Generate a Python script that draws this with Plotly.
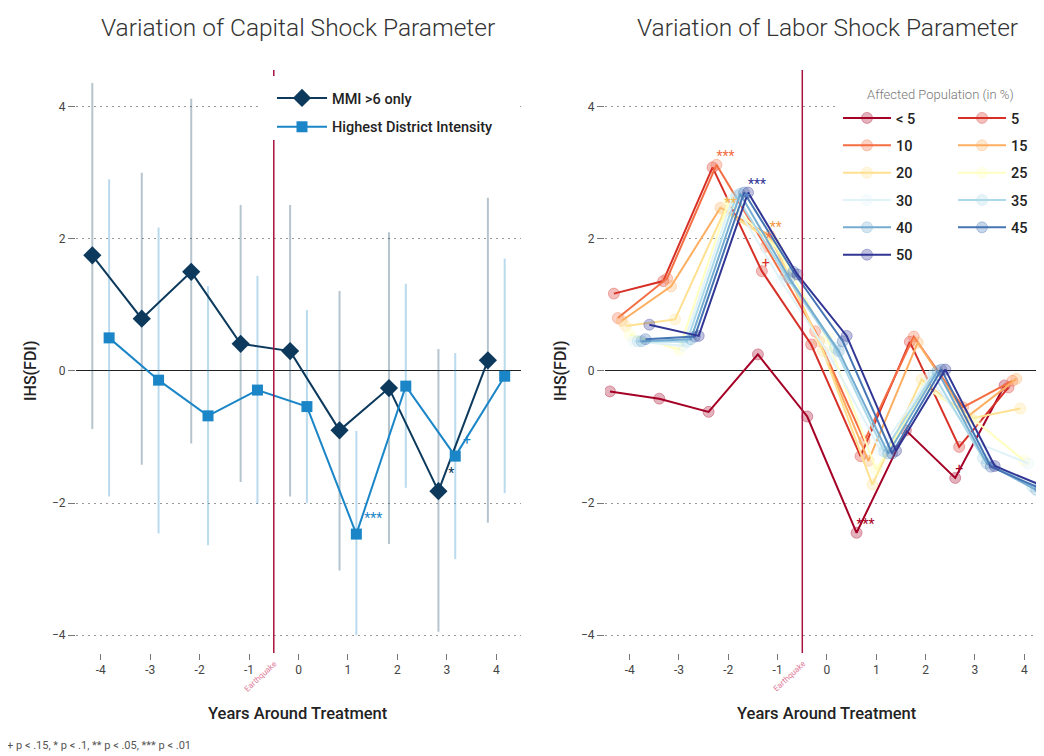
import plotly.graph_objects as go

# The page body has an 8 px margin, so the figure is drawn at (8, 8).
PAGE_OFF = 8
W, H = 1044 - PAGE_OFF, 756 - PAGE_OFF

# ---------------- data ----------------
years = [-4, -3, -2, -1, 0, 1, 2, 3, 4]
tick_labels = ["-4", "-3", "-2", "-1", "0", "1", "2", "3", "4"]

# Left panel: Capital shock parameter
mmi_est = [1.75, 0.79, 1.50, 0.41, 0.30, -0.90, -0.26, -1.82, 0.16]
mmi_lo = [-0.88, -1.42, -1.10, -1.68, -1.90, -3.02, -2.62, -3.95, -2.30]
mmi_hi = [4.36, 3.00, 4.12, 2.51, 2.51, 1.21, 2.10, 0.33, 2.62]
mmi_sig = ["", "", "", "", "", "", "", "*", ""]

hdi_est = [0.50, -0.14, -0.68, -0.29, -0.54, -2.47, -0.23, -1.29, -0.08]
hdi_lo = [-1.90, -2.46, -2.64, -2.01, -2.00, -4.00, -1.77, -2.85, -1.85]
hdi_hi = [2.90, 2.17, 1.28, 1.44, 0.92, -0.91, 1.32, 0.27, 1.70]
hdi_sig = ["", "", "", "", "", "***", "", "+", ""]

# Right panel: Labor shock parameter by affected population share
pop_names = ["< 5", "5", "10", "15", "20", "25", "30", "35", "40", "45", "50"]
pop_lt5 = [-0.31, -0.42, -0.62, 0.25, -0.69, -2.45, -0.90, -1.62, -0.22]
pop_5 = [1.17, 1.36, 3.08, 1.51, 0.40, -1.29, 0.44, -1.15, -0.25]
pop_10 = [0.80, 1.40, 3.12, 1.88, 0.60, -1.06, 0.52, -0.55, -0.15]
pop_15 = [0.76, 1.28, 2.47, 2.05, 0.45, -1.36, 0.43, -0.70, -0.12]
pop_20 = [0.68, 0.78, 2.42, 1.95, 0.30, -1.72, -0.13, -0.72, -0.57]
pop_25 = [0.55, 0.32, 2.55, 1.85, 0.50, -1.50, -0.25, -0.75, -1.36]
pop_30 = [0.45, 0.38, 2.60, 1.35, 0.20, -1.20, -0.10, -1.10, -1.40]
pop_35 = [0.45, 0.44, 2.65, 1.45, 0.35, -1.22, -0.05, -1.32, -1.75]
pop_40 = [0.45, 0.48, 2.68, 1.40, 0.30, -1.25, 0.00, -1.40, -1.80]
pop_45 = [0.48, 0.52, 2.70, 1.50, 0.45, -1.25, 0.02, -1.45, -1.78]
pop_50 = [0.70, 0.53, 2.70, 1.46, 0.53, -1.21, 0.02, -1.44, -1.75]
pop_values = [pop_lt5, pop_5, pop_10, pop_15, pop_20, pop_25,
              pop_30, pop_35, pop_40, pop_45, pop_50]

sig_lt5 = ["", "", "", "", "", "***", "", "+", ""]
sig_5 = ["", "", "", "+", "", "", "", "", ""]
sig_10 = ["", "", "***", "*", "", "", "", "", ""]
sig_15 = ["", "", "", "**", "", "", "", "", ""]
sig_20 = ["", "", "**", "", "", "", "", "", ""]
sig_none = [""] * 9
sig_45 = ["", "", "*", "", "", "", "", "", ""]
sig_50 = ["", "", "***", "", "", "", "", "", ""]
pop_sigs = [sig_lt5, sig_5, sig_10, sig_15, sig_20, sig_none,
            sig_none, sig_none, sig_none, sig_45, sig_50]

# ---------------- styles ----------------
pop_colors = ["#a50026", "#d73027", "#f46d43", "#fdae61", "#fee090", "#ffffbf",
              "#e0f3f8", "#abd9e9", "#74add1", "#4575b4", "#313695"]
sig_colors = ["#a50026", "#d73027", "#f46d43", "#f59a45", "#f7b84a", "#f0e060",
              "#b8dff0", "#8cc6e0", "#74add1", "#5b8fcc", "#313695"]
sig_pos = ["top right"] * 9 + ["bottom right", "top right"]
MMI_C = "#0d3a5c"
HDI_C = "#1a86c7"
QUAKE_C = "#a8123e"
FONT = "Roboto"


def rgba(hexc, a):
    h = hexc.lstrip("#")
    r, g, b = int(h[0:2], 16), int(h[2:4], 16), int(h[4:6], 16)
    return f"rgba({r},{g},{b},{a})"


def px(x):
    return (x - PAGE_OFF) / W


def py(y):
    return 1 - (y - PAGE_OFF) / H


def ci_segments(xs, lo, hi):
    X, Y = [], []
    for x, a, b in zip(xs, lo, hi):
        X += [x, x, None]
        Y += [a, b, None]
    return X, Y


fig = go.Figure()

# ---------- left panel ----------
off_l = 0.17
x_mmi = [y - off_l for y in years]
x_hdi = [y + off_l for y in years]

cx, cy = ci_segments(x_mmi, mmi_lo, mmi_hi)
fig.add_trace(go.Scatter(x=cx, y=cy, mode="lines", line=dict(color=rgba(MMI_C, 0.3), width=2),
                         showlegend=False, hoverinfo="skip", xaxis="x", yaxis="y"))
cx, cy = ci_segments(x_hdi, hdi_lo, hdi_hi)
fig.add_trace(go.Scatter(x=cx, y=cy, mode="lines", line=dict(color=rgba(HDI_C, 0.3), width=2),
                         showlegend=False, hoverinfo="skip", xaxis="x", yaxis="y"))

fig.add_trace(go.Scatter(
    x=x_mmi, y=mmi_est, mode="lines+markers+text", name="MMI >6 only",
    line=dict(color=MMI_C, width=2), marker=dict(symbol="diamond", size=14, color=MMI_C),
    text=mmi_sig, textposition="top right", textfont=dict(color=MMI_C, size=14, family=FONT),
    xaxis="x", yaxis="y", legend="legend", legendgroup="a"))
fig.add_trace(go.Scatter(
    x=x_hdi, y=hdi_est, mode="lines+markers+text", name="Highest District Intensity",
    line=dict(color=HDI_C, width=2), marker=dict(symbol="square", size=11, color=HDI_C),
    text=hdi_sig, textposition="top right", textfont=dict(color=HDI_C, size=14, family=FONT),
    xaxis="x", yaxis="y", legend="legend", legendgroup="b"))

# ---------- right panel ----------
pop_offsets = [-0.4 + 0.08 * i for i in range(len(pop_names))]
for i, (name, vals, col) in enumerate(zip(pop_names, pop_values, pop_colors)):
    xs = [y + pop_offsets[i] for y in years]
    leg = "legend2" if i % 2 == 0 else "legend3"
    fig.add_trace(go.Scatter(
        x=xs, y=vals, mode="lines+markers", name=name,
        line=dict(color=col, width=2),
        marker=dict(symbol="circle", size=11, color=rgba(col, 0.3),
                    line=dict(color=rgba(col, 0.35), width=1)),
        xaxis="x2", yaxis="y2", legend=leg, legendgroup=f"p{i}"))

# significance stars drawn on top of all lines
for i, (vals, sig) in enumerate(zip(pop_values, pop_sigs)):
    if not any(sig):
        continue
    xs = [y + pop_offsets[i] for y in years]
    fig.add_trace(go.Scatter(
        x=xs, y=vals, mode="text", text=sig, textposition=sig_pos[i],
        textfont=dict(color=sig_colors[i], size=14, family=FONT),
        marker=dict(size=11), showlegend=False, hoverinfo="skip", xaxis="x2", yaxis="y2"))

# ---------- axes ----------
ydom = [py(653), py(70)]
common_y = dict(range=[-4.27, 4.555], tickvals=[-4, -2, 0, 2, 4], ticks="outside", ticklen=7,
                tickcolor="#777", tickwidth=1, showgrid=True, gridcolor="#999999", griddash="1.5px,4.5px",
                gridwidth=1, zeroline=True, zerolinecolor="#222", zerolinewidth=1, showline=False,
                tickfont=dict(family=FONT, size=12, color="#444"), domain=ydom)
common_x = dict(tickvals=years, ticktext=tick_labels, ticks="outside", ticklen=6, tickcolor="#777",
                tickwidth=1, showgrid=False, zeroline=False, showline=False,
                tickfont=dict(family=FONT, size=12, color="#444"))

fig.update_layout(
    xaxis=dict(domain=[px(76), px(521)], range=[-4.5, 4.5], anchor="y", **common_x),
    yaxis=dict(anchor="x", **common_y),
    xaxis2=dict(domain=[px(605), 1.0], range=[-4.5, 4.4], anchor="y2", **common_x),
    yaxis2=dict(anchor="x2", **common_y),
)

# ---------- shapes ----------
shapes = [
    dict(type="line", xref="x", yref="y domain", x0=-0.5, x1=-0.5, y0=0, y1=1.0,
         line=dict(color=QUAKE_C, width=1.5), layer="above"),
    dict(type="line", xref="x2", yref="y2 domain", x0=-0.5, x1=-0.5, y0=0, y1=1.0,
         line=dict(color=QUAKE_C, width=1.5), layer="above"),
    dict(type="rect", xref="paper", yref="paper", x0=px(262), x1=px(516), y0=py(140), y1=py(76),
         fillcolor="white", line=dict(width=0), layer="above"),
    dict(type="rect", xref="paper", yref="paper", x0=px(838), x1=1.0, y0=py(270), y1=py(76),
         fillcolor="white", line=dict(width=0), layer="above"),
]

# ---------- annotations ----------
ann = []


def txt(text, x, y, size, color, weight=400, angle=0, xanchor="center"):
    ann.append(dict(text=text, x=px(x), y=py(y), xref="paper", yref="paper", showarrow=False,
                    xanchor=xanchor, yanchor="middle", textangle=angle,
                    font=dict(family=FONT, size=size, color=color, weight=weight)))


txt("Variation of Capital Shock Parameter", 298, 28, 24.5, "#333", 300)
txt("Variation of Labor Shock Parameter", 827, 28, 24.5, "#333", 300)
for xc in (30, 560):
    txt("IHS(FDI)", xc, 371, 16, "#222", 500, angle=-90)
for xc in (298, 827):
    txt("Years Around Treatment", xc, 713, 16.5, "#222", 500)
txt("+ p < .15, * p < .1, ** p < .05, *** p < .01", 5, 745, 11, "#555", xanchor="left")
txt("Affected Population (in %)", 940, 94, 13, "#777", 300)
for xr in ("x", "x2"):
    ann.append(dict(text="Earthquake", x=-0.77, y=py(676), xref=xr, yref="paper", textangle=-43,
                    xanchor="center", yanchor="middle", showarrow=False,
                    font=dict(family=FONT, size=8, color="#e07a98")))

leg_common = dict(bgcolor="rgba(0,0,0,0)", borderwidth=0, xanchor="left", yanchor="top",
                  font=dict(family=FONT, size=14.5, color="#222", weight=500))
fig.update_layout(
    width=W, height=H, margin=dict(l=0, r=0, t=0, b=0, autoexpand=False),
    paper_bgcolor="white", plot_bgcolor="white",
    shapes=shapes, annotations=ann,
    legend=dict(x=px(272), y=py(82), tracegroupgap=7, itemwidth=50, **leg_common),
    legend2=dict(x=px(838), y=py(102), tracegroupgap=5.5, itemwidth=48, **leg_common),
    legend3=dict(x=px(953), y=py(102), tracegroupgap=5.5, itemwidth=48, **leg_common),
    font=dict(family=FONT),
)

fig.write_html("out.html")
